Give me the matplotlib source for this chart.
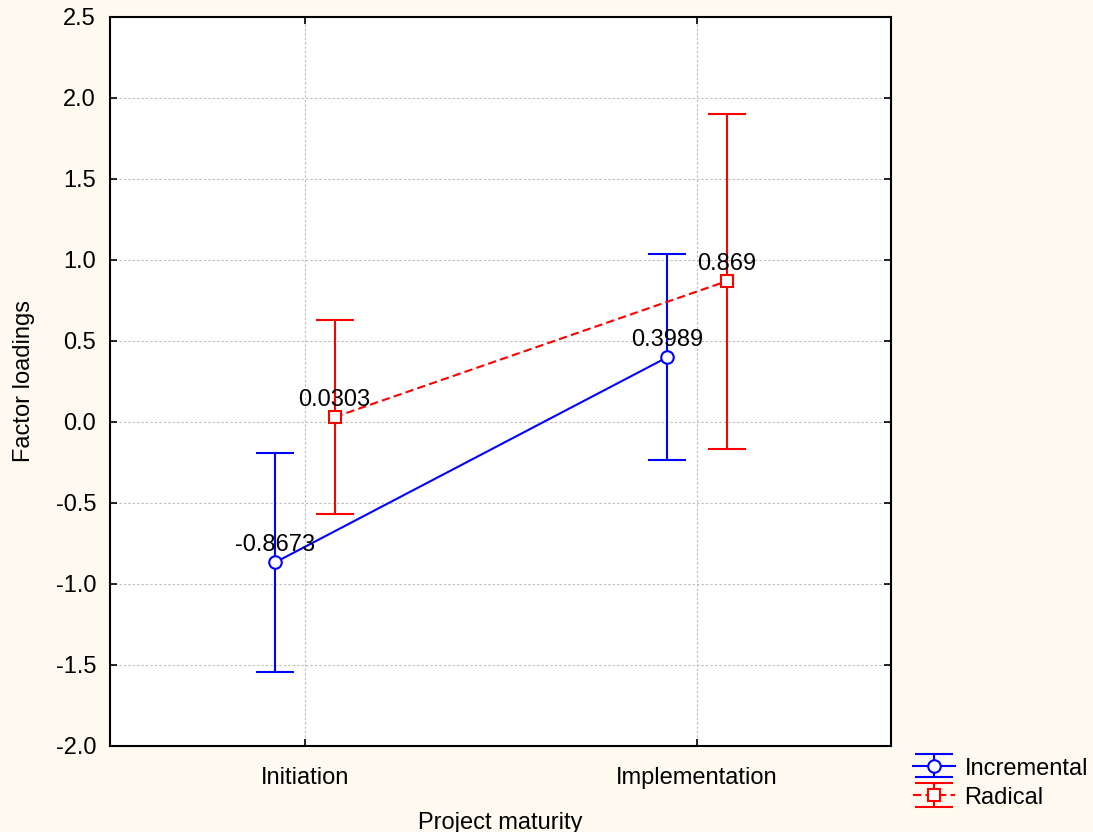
import matplotlib
matplotlib.use("Agg")
import matplotlib.pyplot as plt
import numpy as np

categories = ["Initiation", "Implementation"]
incremental_mean = [-0.8673, 0.3989]
incremental_err = [0.675, 0.636]
radical_mean = [0.0303, 0.869]
radical_err = [0.597, 1.033]
incremental_labels = ["-0.8673", "0.3989"]
radical_labels = ["0.0303", "0.869"]
yticks = [-2.0, -1.5, -1.0, -0.5, 0.0, 0.5, 1.0, 1.5, 2.0, 2.5]

plt.rcParams['font.family'] = ['Liberation Sans', 'DejaVu Sans']
FS = 17

fig = plt.figure(figsize=(10.93, 8.32), dpi=100, facecolor='#FFFAF0')
ax = fig.add_axes([0.1006, 0.1034, 0.7146, 0.8762])
ax.set_facecolor('white')

x = np.arange(len(categories))
off = 0.076

h1 = ax.errorbar(x - off, incremental_mean, yerr=incremental_err, color='#0000FF',
                 marker='o', markersize=9, markerfacecolor='white', markeredgecolor='#0000FF',
                 markeredgewidth=1.5, linewidth=1.5, elinewidth=1.5, capsize=14, capthick=1.5,
                 label='Incremental', zorder=3)
h2 = ax.errorbar(x + off, radical_mean, yerr=radical_err, color='#FF0000',
                 marker='s', markersize=9, markerfacecolor='white', markeredgecolor='#FF0000',
                 markeredgewidth=1.5, linewidth=1.5, linestyle=(0, (4, 2)), elinewidth=1.5,
                 capsize=14, capthick=1.5, label='Radical', zorder=3)

for xi, yi, lab in zip(x - off, incremental_mean, incremental_labels):
    ax.annotate(lab, (xi, yi), xytext=(0, 8), textcoords='offset points',
                ha='center', va='baseline', fontsize=FS, zorder=4)
for xi, yi, lab in zip(x + off, radical_mean, radical_labels):
    ax.annotate(lab, (xi, yi), xytext=(0, 8), textcoords='offset points',
                ha='center', va='baseline', fontsize=FS, zorder=4)

ax.set_xlim(-0.497, 1.495)
ax.set_ylim(-2.0, 2.5)
ax.set_xticks(x)
ax.set_xticklabels(categories, fontsize=FS)
ax.set_yticks(yticks)
ax.set_yticklabels([f"{v:.1f}" for v in yticks], fontsize=FS)
ax.tick_params(axis='both', direction='in', length=5, width=1.2, colors='black',
               top=True, right=True)
ax.tick_params(axis='x', pad=15.5)
ax.tick_params(axis='y', pad=10)
ax.grid(True, color='#BBBBBB', linestyle=(0, (2, 2)), linewidth=0.8, zorder=0)
ax.set_axisbelow(True)
for s in ax.spines.values():
    s.set_linewidth(1.5)
    s.set_color('black')

ax.set_xlabel("Project maturity", fontsize=FS, labelpad=16)
ax.set_ylabel("Factor loadings", fontsize=FS, labelpad=15)

leg = fig.legend(handles=[h1, h2], labels=['Incremental', 'Radical'], loc='upper left',
                 bbox_to_anchor=(0.835, 0.091), frameon=False, fontsize=FS,
                 handlelength=1.8, handleheight=1.0, handletextpad=0.4,
                 labelspacing=0.25, borderaxespad=0, borderpad=0)

fig.savefig("out.png", dpi=100, facecolor=fig.get_facecolor())
